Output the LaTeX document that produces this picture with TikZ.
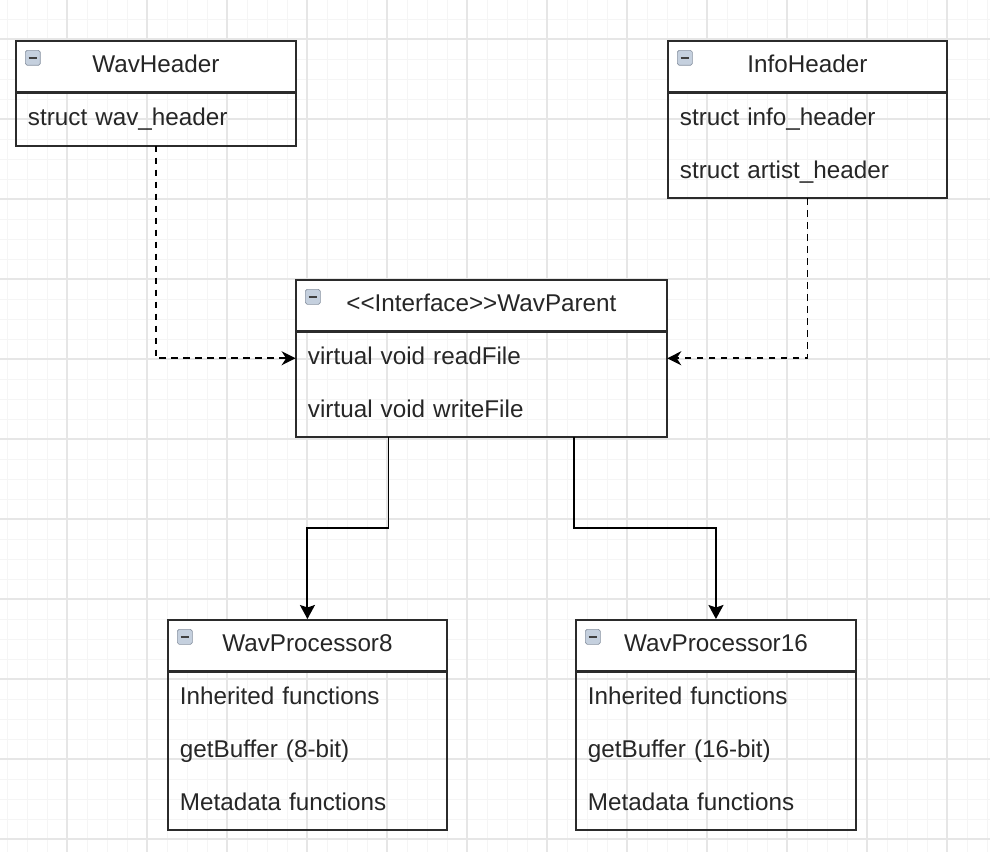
\documentclass[tikz,border=0pt]{standalone}
\usepackage{fontspec}
\setmainfont{Liberation Sans}[Ligatures=TeXOff,WordSpace=0.72]
\usetikzlibrary{arrows.meta,positioning,calc}
\definecolor{gridminor}{HTML}{F5F5F5}
\definecolor{gridmajor}{HTML}{E6E6E6}
\definecolor{iconfill}{HTML}{C5D0DE}
\definecolor{iconline}{HTML}{8A94A3}
\definecolor{boxline}{HTML}{2B2B2B}

\begin{document}
\begin{tikzpicture}[x=0.02cm,y=-0.02cm,
	cls/.style={draw=boxline,line width=1.1pt,fill=white,minimum height=1.02cm,inner sep=0pt,text height=0.88em,text depth=0.2em,font=\fontsize{13.8}{16}\selectfont,text=black!85},
	row/.style={minimum height=1.04cm,inner xsep=0.24cm,inner ysep=0pt,align=left,text height=1em,text depth=0.26em,font=\fontsize{13.8}{16}\selectfont,text=black!85},
	ico/.style={draw=iconline,fill=iconfill,rounded corners=1pt,minimum size=0.3cm,inner sep=0pt,line width=0.4pt},
	dep/.style={draw=black,line width=1pt,dash pattern=on 0.13cm off 0.11cm,-{Stealth[length=0.28cm,width=0.28cm,inset=0.09cm]}},
	inh/.style={draw=black,line width=1.1pt,-{Stealth[length=0.28cm,width=0.3cm,inset=0.05cm]}}
	]
	% grid
	\useasboundingbox (0,0) rectangle (990,852);
	\foreach \gx in {7,27,...,990} \draw[gridminor,line width=0.5pt] (\gx,0)--(\gx,852);
	\foreach \gy in {19,39,...,852} \draw[gridminor,line width=0.5pt] (0,\gy)--(990,\gy);
	\foreach \gx in {67,147,...,990} \draw[gridmajor,line width=0.6pt] (\gx,0)--(\gx,852);
	\foreach \gy in {39,119,...,852} \draw[gridmajor,line width=0.6pt] (0,\gy)--(990,\gy);

	% WavHeader
	\node[cls,minimum width=5.6cm,anchor=north west] (wh) at (15,40) {WavHeader};
	\node[row,text width=5.12cm] (wh1) [below=0pt of wh] {struct wav\_header};
	\draw[boxline,line width=1.1pt] (wh1.north west) rectangle (wh1.south east);

	% InfoHeader
	\node[cls,minimum width=5.58cm,anchor=north west] (ih) at (667,40) {InfoHeader};
	\node[row,text width=5.1cm] (ih1) [below=0pt of ih] {struct info\_header};
	\node[row,text width=5.1cm] (ih2) [below=0pt of ih1] {struct artist\_header};
	\draw[boxline,line width=1.1pt] (ih1.north west) rectangle (ih2.south east);

	% WavParent
	\node[cls,minimum width=7.42cm,anchor=north west] (wp) at (295,279) {\textless\textless Interface\textgreater\textgreater WavParent};
	\node[row,text width=6.94cm] (wp1) [below=0pt of wp] {virtual void readFile};
	\node[row,text width=6.94cm] (wp2) [below=0pt of wp1] {virtual void writeFile};
	\draw[boxline,line width=1.1pt] (wp1.north west) rectangle (wp2.south east);

	% WavProcessor8
	\node[cls,minimum width=5.58cm,anchor=north west] (p8) at (167,619) {WavProcessor8};
	\node[row,text width=5.1cm] (p81) [below=0pt of p8] {Inherited functions};
	\node[row,text width=5.1cm] (p82) [below=0pt of p81] {getBuffer (8-bit)};
	\node[row,text width=5.1cm] (p83) [below=0pt of p82] {Metadata functions};
	\draw[boxline,line width=1.1pt] (p81.north west) rectangle (p83.south east);

	% WavProcessor16
	\node[cls,minimum width=5.6cm,anchor=north west] (p16) at (575,619) {WavProcessor16};
	\node[row,text width=5.12cm] (p161) [below=0pt of p16] {Inherited functions};
	\node[row,text width=5.12cm] (p162) [below=0pt of p161] {getBuffer (16-bit)};
	\node[row,text width=5.12cm] (p163) [below=0pt of p162] {Metadata functions};
	\draw[boxline,line width=1.1pt] (p161.north west) rectangle (p163.south east);

	% collapse icons
	\foreach \c in {wh,ih,wp,p8,p16}{
		\node[ico,anchor=north west] (\c-ico) at ($(\c.north west)+(10,10)$) {};
		\draw[black!75,line width=1.3pt] ($(\c-ico.west)+(3.5,0)$)--($(\c-ico.east)+(-3.5,0)$);
	}

	% dependencies
	\draw[dep] (wh1.south) |- (wp1.west);
	\draw[dep] (ih2.south) |- (wp1.east);

	% inheritance
	\coordinate (s8) at ($(wp2.south west)!0.25!(wp2.south east)$);
	\coordinate (s16) at ($(wp2.south west)!0.75!(wp2.south east)$);
	\draw[inh] (s8) |- ($(s8)!0.5!(p8.north)$) -| (p8.north);
	\draw[inh] (s16) |- ($(s16)!0.5!(p16.north)$) -| (p16.north);
\end{tikzpicture}
\end{document}
